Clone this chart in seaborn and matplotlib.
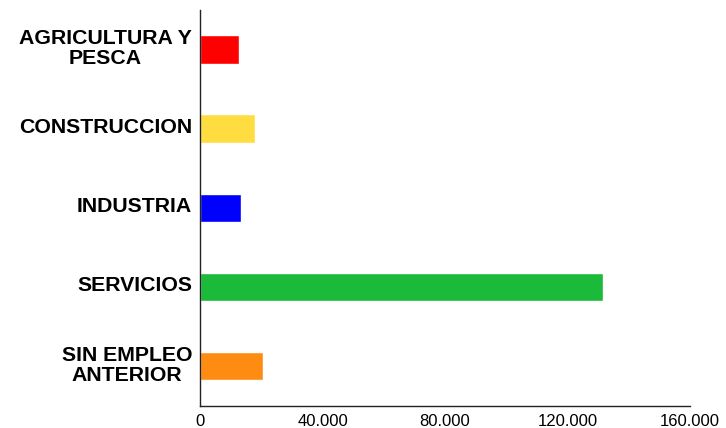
import matplotlib
matplotlib.use("Agg")
import matplotlib.pyplot as plt
import matplotlib.transforms as mtransforms
import seaborn as sns
import pandas as pd
from matplotlib.ticker import FuncFormatter

# data
sectores = ["AGRICULTURA Y\nPESCA", "CONSTRUCCION", "INDUSTRIA", "SERVICIOS", "SIN EMPLEO\nANTERIOR"]
valores = [12700, 17900, 13300, 131600, 20500]
colores = ["#FF0000", "#FFDD40", "#0000FF", "#1BBA3A", "#FF8C12"]

df = pd.DataFrame({"sector": sectores, "valor": valores})

sns.set_style("white")
plt.rcParams["font.family"] = ["Liberation Sans", "DejaVu Sans"]
plt.rcParams["text.color"] = "black"
plt.rcParams["xtick.color"] = "black"
plt.rcParams["ytick.color"] = "black"

fig = plt.figure(figsize=(7.26, 4.28), dpi=100)
ax = fig.add_axes([0.276, 0.052, 0.674, 0.925])

sns.barplot(data=df, x="valor", y="sector", hue="sector", palette=colores,
            orient="h", width=0.36, legend=False, ax=ax, saturation=1)

ax.set_xlim(0, 160000)
ax.set_ylim(4.5, -0.5)
ax.set_xticks([0, 40000, 80000, 120000, 160000])
ax.xaxis.set_major_formatter(FuncFormatter(lambda v, p: f"{int(v):,}".replace(",", ".")))
ax.set_xlabel("")
ax.set_ylabel("")

for s in ["top", "right"]:
    ax.spines[s].set_visible(False)
for s in ["left", "bottom"]:
    ax.spines[s].set_color("#222222")
    ax.spines[s].set_linewidth(1.0)

ax.tick_params(axis="x", direction="in", length=5, width=1, colors="black",
               labelsize=12, pad=6)
ax.tick_params(axis="y", length=0, pad=6, colors="black")
# nudge category labels slightly upward, as in the original
shift = mtransforms.ScaledTranslation(0, 3 / 100, fig.dpi_scale_trans)
for lbl in ax.get_yticklabels():
    lbl.set_fontsize(15.3)
    lbl.set_fontweight("bold")
    lbl.set_multialignment("center")
    lbl.set_linespacing(1.05)
    lbl.set_transform(lbl.get_transform() + shift)

fig.savefig("out.png", dpi=100)
